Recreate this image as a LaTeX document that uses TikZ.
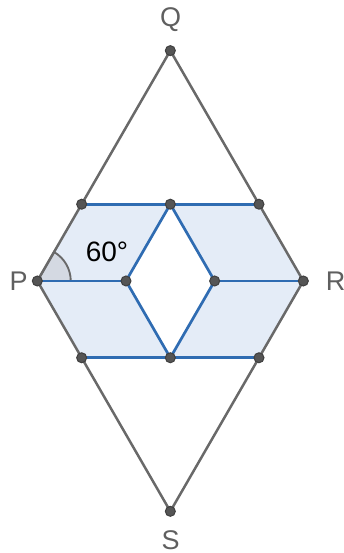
\documentclass[tikz,border=0pt]{standalone}
\usepackage{fontspec}
\setmainfont{Liberation Sans}
\usepackage{xcolor}
\usepackage{tikz}
\usetikzlibrary{positioning}
\definecolor{rhombgray}{RGB}{105,105,105}
\definecolor{tileblue}{RGB}{47,108,178}
\definecolor{tilefill}{RGB}{228,236,247}
\definecolor{anglefill}{RGB}{212,217,226}
\definecolor{dotgray}{RGB}{85,85,85}
\definecolor{labelgray}{RGB}{95,95,95}
\tikzset{
  grayedge/.style={
    draw=rhombgray,
    line width=1.2pt
  },
  blueedge/.style={
    draw=tileblue,
    line width=1.3pt
  },
  ptdot/.style={
    circle,
    fill=dotgray,
    draw=black!75,
    line width=0.5pt,
    inner sep=0pt,
    minimum size=4.8pt
  },
  ptlabel/.style={
    text=labelgray,
    font=\fontsize{13}{15}\selectfont,
    inner sep=0pt
  }
}

\begin{document}
\begin{tikzpicture}[x=1.5cm, y=1.5cm]
\useasboundingbox (-0.421,-3.068) rectangle (3.448,3.169);
% corners of the big rhombus
\coordinate (P) at (0,0);
\coordinate (Q) at (1.5,2.598);
\coordinate (R) at (3,0);
\coordinate (S) at (1.5,-2.598);
% hexagon and inner points
\coordinate (topl) at (0.5,0.866);
\coordinate (topm) at (1.5,0.866);
\coordinate (topr) at (2.5,0.866);
\coordinate (botl) at (0.5,-0.866);
\coordinate (botm) at (1.5,-0.866);
\coordinate (botr) at (2.5,-0.866);
\coordinate (midl) at (1,0);
\coordinate (midr) at (2,0);

% shaded tiles
\fill[tilefill, even odd rule] (P) -- (topl) -- (topr) -- (R) -- (botr) -- (botl) -- cycle
  (topm) -- (midl) -- (botm) -- (midr) -- cycle;

% angle mark
\filldraw[fill=anglefill, draw=rhombgray, line width=0.9pt]
  (P) -- (0.377,0) arc[start angle=0, end angle=60, radius=0.377] -- cycle;

\draw[grayedge] (P) -- (Q) -- (R) -- (S) -- cycle;

\draw[blueedge] (topl) -- (topr);
\draw[blueedge] (botl) -- (botr);
\draw[blueedge] (P) -- (midl);
\draw[blueedge] (midr) -- (R);
\draw[blueedge] (midl) -- (topm) -- (midr) -- (botm) -- cycle;

\foreach \pt in {P,Q,R,S,topl,topm,topr,botl,botm,botr,midl,midr}
  \node[ptdot] at (\pt) {};

\node[ptlabel] (labQ) at (1.504,2.943) {Q};
\node[ptlabel] (labS) at (1.504,-2.925) {S};
\node[ptlabel] (labP) at (-0.212,0) {P};
\node[ptlabel] (labR) at (3.365,0) {R};
\node[font=\fontsize{13.5}{15}\selectfont, inner sep=0pt] (angle) at (0.786,0.327) {60°};
\end{tikzpicture}
\end{document}
